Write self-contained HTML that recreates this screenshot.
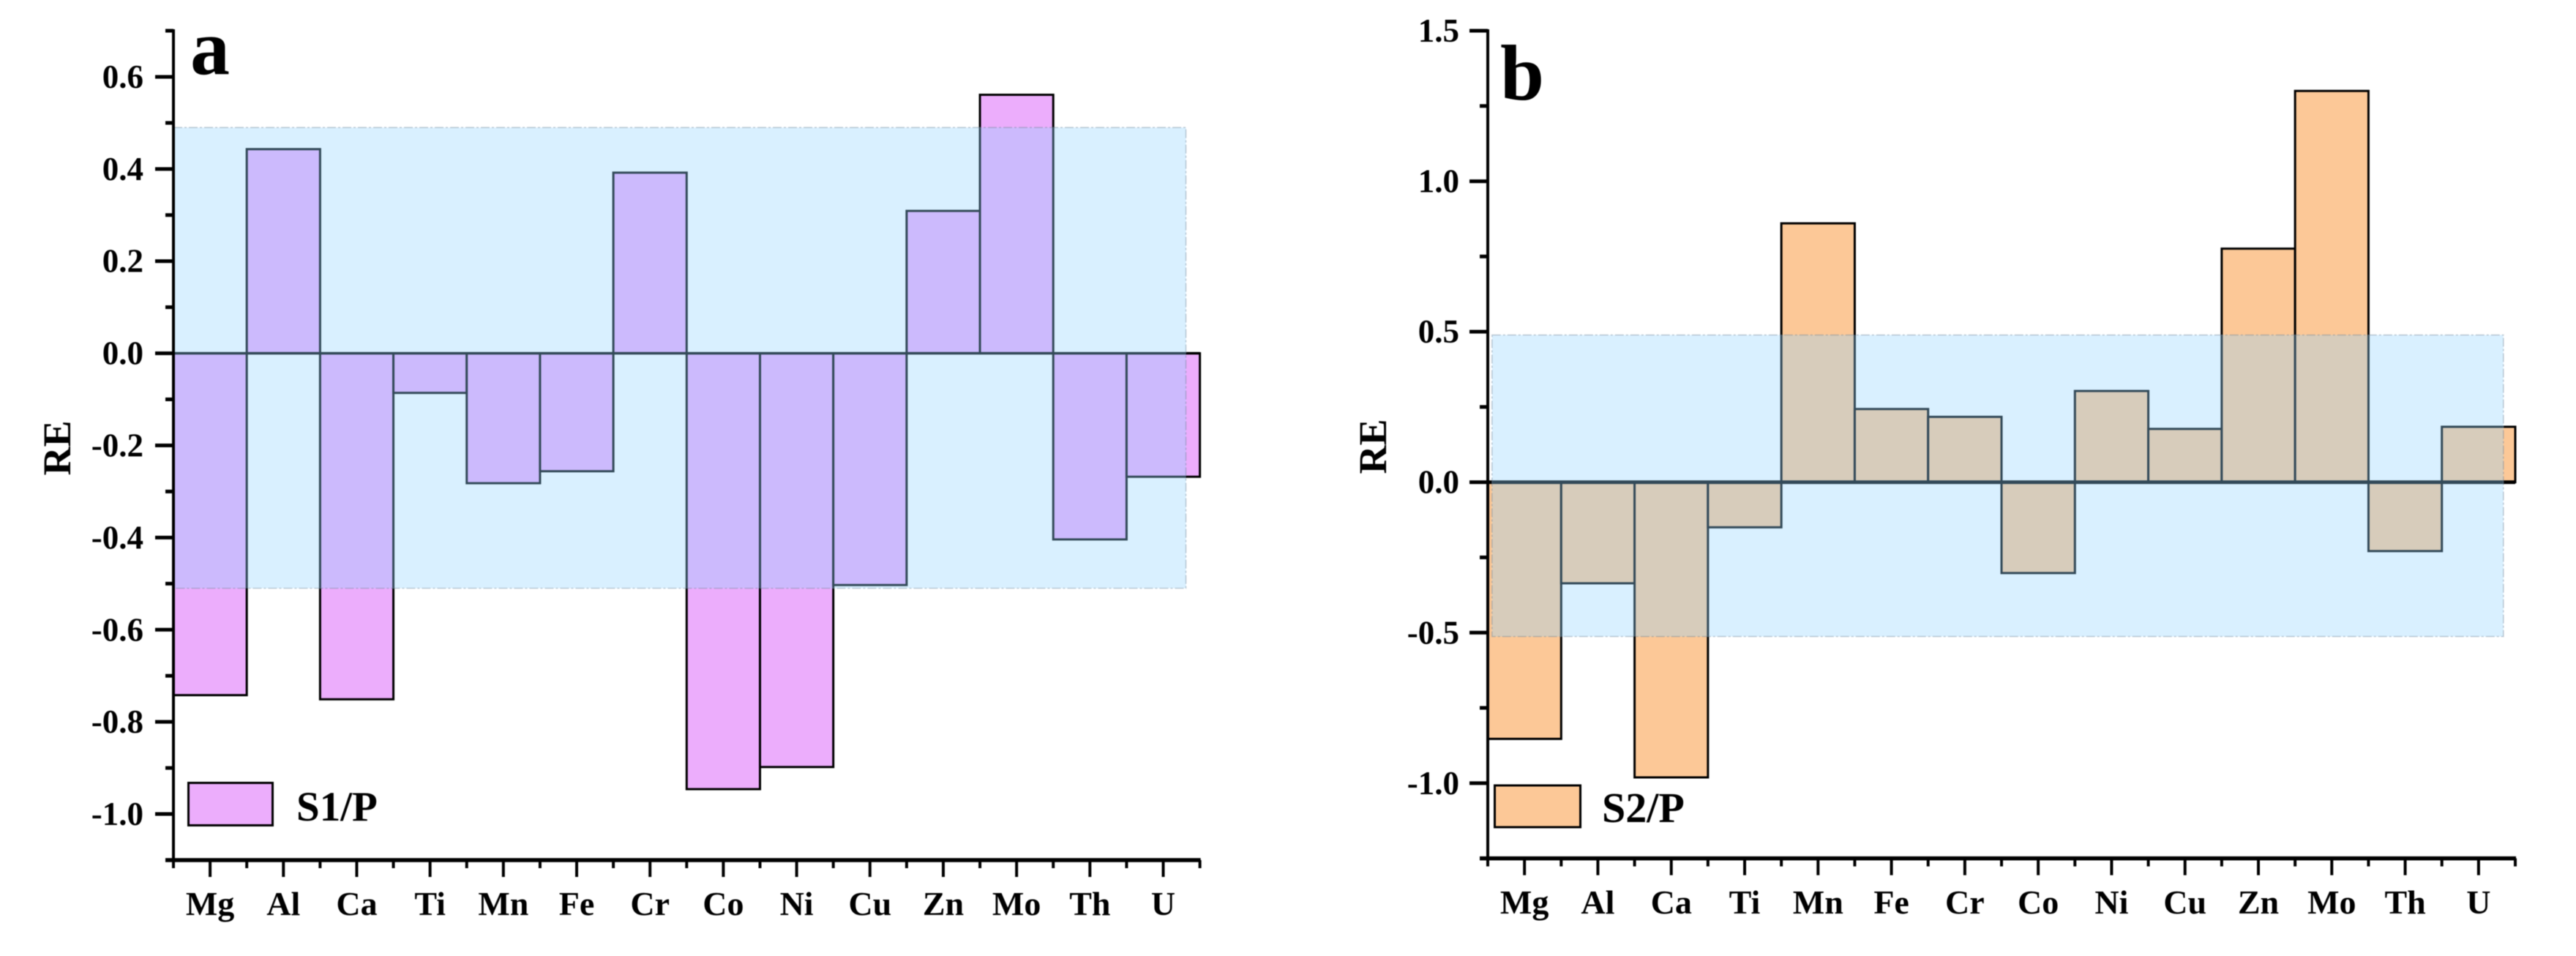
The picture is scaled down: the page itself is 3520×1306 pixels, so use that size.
<!DOCTYPE html>
<html lang="en">
<head>
<meta charset="utf-8">
<title>Relative error charts</title>
<style>
html,body{margin:0;padding:0;background:#fff}
body{width:3520px;height:1306px;overflow:hidden}
svg{display:block;filter:blur(0.6px)}
text{font-family:"Liberation Serif",serif;font-weight:bold;fill:#000}
</style>
</head>
<body>
<svg id="chart" xmlns="http://www.w3.org/2000/svg" width="3520" height="1306" viewBox="0 0 3520 1306"></svg>
<script>
const categories = ['Mg','Al','Ca','Ti','Mn','Fe','Cr','Co','Ni','Cu','Zn','Mo','Th','U'];
const s1Values = [-0.742,0.443,-0.751,-0.086,-0.282,-0.256,0.392,-0.946,-0.898,-0.503,0.309,0.561,-0.404,-0.268];
const s2Values = [-0.853,-0.336,-0.981,-0.150,0.860,0.243,0.217,-0.302,0.303,0.177,0.776,1.300,-0.229,0.184];
const s1MajorTicks = [0.6,0.4,0.2,0.0,-0.2,-0.4,-0.6,-0.8,-1.0];
const s1MinorTicks = [0.7,0.5,0.3,0.1,-0.1,-0.3,-0.5,-0.7,-0.9,-1.1];
const s2MajorTicks = [1.5,1.0,0.5,0.0,-0.5,-1.0];
const s2MinorTicks = [1.25,0.75,0.25,-0.25,-0.75,-1.25];
const s1Band = [0.49,-0.51];
const s2Band = [0.489,-0.513];
const s1Domain = [-1.1,0.7];
const s2Domain = [-1.25,1.5];

const svg = document.getElementById('chart');
const NS = 'http://www.w3.org/2000/svg';

function make(parent, tag, attrs, content) {
  const el = document.createElementNS(NS, tag);
  for (const k in attrs) el.setAttribute(k, attrs[k]);
  if (content !== undefined) el.textContent = content;
  parent.appendChild(el);
  return el;
}

function drawPanel(cfg) {
  const group = make(svg, 'g', {});
  
  

  const yScale = v => cfg.bottom - (v - cfg.domain[0]) / (cfg.domain[1] - cfg.domain[0]) * (cfg.bottom - cfg.top);
  const step = (cfg.right - cfg.left) / cfg.categories.length;
  const xEdge = i => cfg.left + i * step;
  const xCenter = i => cfg.left + (i + 0.5) * step;
  const zero = yScale(0);

  // bars
  cfg.values.forEach((v, i) => {
    const y0 = Math.min(yScale(v), zero);
    const h = Math.abs(yScale(v) - zero);
    const bar = make(group, 'rect', {x: xEdge(i), y: y0, width: step, height: h, fill: cfg.color, stroke: '#000', 'stroke-width': 3});
    
    
  });

  // zero line
  const zeroLine = make(group, 'line', {x1: cfg.left, x2: cfg.right, y1: zero, y2: zero, stroke: '#000', 'stroke-width': cfg.zeroWidth});
  
  

  // tolerance band
  const bandTop = yScale(cfg.band[0]);
  const bandBottom = yScale(cfg.band[1]);
  const band = make(group, 'rect', {x: cfg.bandLeft, y: bandTop, width: cfg.bandRight - cfg.bandLeft, height: bandBottom - bandTop, fill: 'rgba(146,212,255,0.35)', stroke: 'rgba(110,130,150,0.4)', 'stroke-width': 1.6, 'stroke-dasharray': '12 3 3 3'});
  
  

  // y axis
  const yAxis = make(group, 'line', {x1: cfg.left, x2: cfg.left, y1: cfg.top - 2, y2: cfg.bottom, stroke: '#000', 'stroke-width': 4});
  
  

  cfg.majorTicks.forEach(v => {
    const y = yScale(v);
    const tick = make(group, 'line', {x1: cfg.left - 25, x2: cfg.left, y1: y, y2: y, stroke: '#000', 'stroke-width': 5});
    
    
    const label = make(group, 'text', {x: cfg.labelRight, y: y + 15, 'text-anchor': 'end', 'font-size': 45}, v.toFixed(1));
    
    
  });
  cfg.minorTicks.forEach(v => {
    const y = yScale(v);
    const tick = make(group, 'line', {x1: cfg.left - 11, x2: cfg.left, y1: y, y2: y, stroke: '#000', 'stroke-width': 5});
    
    
  });

  // x axis
  const xAxis = make(group, 'line', {x1: cfg.left - 11, x2: cfg.right + 1, y1: cfg.bottom, y2: cfg.bottom, stroke: '#000', 'stroke-width': 5.5});
  
  

  for (let i = 0; i <= cfg.categories.length; i++) {
    const tick = make(group, 'line', {x1: xEdge(i), x2: xEdge(i), y1: cfg.bottom, y2: cfg.bottom + 11, stroke: '#000', 'stroke-width': 4});
    
    
  }
  cfg.categories.forEach((c, i) => {
    const tick = make(group, 'line', {x1: xCenter(i), x2: xCenter(i), y1: cfg.bottom, y2: cfg.bottom + 23, stroke: '#000', 'stroke-width': 4});
    
    
    const label = make(group, 'text', {x: xCenter(i), y: cfg.xLabelY, 'text-anchor': 'middle', 'font-size': 46}, c);
    
    
  });

  // y title
  const title = make(group, 'text', {transform: 'translate(' + cfg.titleX + ',' + cfg.titleY + ') rotate(-90)', 'text-anchor': 'middle', 'font-size': 54}, 'RE');
  
  

  // panel letter
  const letter = make(group, 'text', {x: cfg.letterX, y: cfg.letterY, 'font-size': cfg.letterFont}, cfg.letter);
  
  

  // legend
  const swatch = make(group, 'rect', {x: cfg.legendX, y: cfg.legendY, width: cfg.legendW, height: cfg.legendH, fill: cfg.color, stroke: '#000', 'stroke-width': 3});
  
  
  const legendText = make(group, 'text', {x: cfg.legendTextX, y: cfg.legendTextY, 'font-size': cfg.legendFont}, cfg.series);
  
  
}

drawPanel({
  letter: 'a', series: 'S1/P', categories: categories, values: s1Values, color: '#ECADFC',
  majorTicks: s1MajorTicks, minorTicks: s1MinorTicks, band: s1Band, domain: s1Domain,
  left: 237, right: 1639.6, top: 42, bottom: 1175, zeroWidth: 3.5,
  bandLeft: 237, bandRight: 1620.5, labelRight: 196, xLabelY: 1250,
  titleX: 96, titleY: 612, letterX: 260, letterY: 101, letterFont: 108,
  legendX: 257.5, legendY: 1069.5, legendW: 115, legendH: 58,
  legendTextX: 405, legendTextY: 1121, legendFont: 57
});

drawPanel({
  letter: 'b', series: 'S2/P', categories: categories, values: s2Values, color: '#FCC897',
  majorTicks: s2MajorTicks, minorTicks: s2MinorTicks, band: s2Band, domain: s2Domain,
  left: 2033, right: 3437, top: 42, bottom: 1172.6, zeroWidth: 5,
  bandLeft: 2038.8, bandRight: 3420.8, labelRight: 1994, xLabelY: 1248,
  titleX: 1894, titleY: 610, letterX: 2050, letterY: 136, letterFont: 108,
  legendX: 2042.5, legendY: 1073, legendW: 117, legendH: 57,
  legendTextX: 2189, legendTextY: 1123, legendFont: 58
});
</script>
</body>
</html>
